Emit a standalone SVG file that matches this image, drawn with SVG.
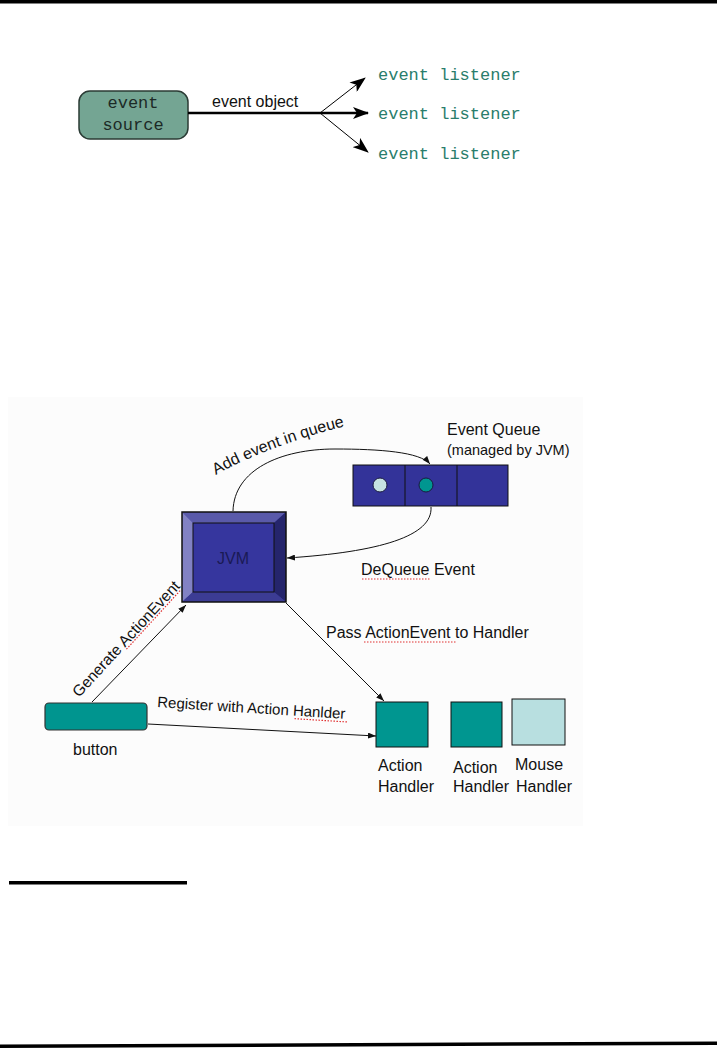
<svg xmlns="http://www.w3.org/2000/svg" width="717" height="1049" viewBox="0 0 717 1049">
<defs>
<style>
.mono{font-family:"Liberation Mono","DejaVu Sans Mono",monospace;font-size:17px}
.lst{fill:#2a7d6c}
.sans{font-family:"Liberation Sans",Arial,sans-serif;fill:#111}
.thin{fill:none;stroke:#111;stroke-width:1}
.squig{fill:none;stroke:#e03030;stroke-width:1.2;stroke-dasharray:1.5 1.5}
</style>
<marker id="big" markerWidth="16" markerHeight="12" refX="15" refY="6" orient="auto" markerUnits="userSpaceOnUse">
<path d="M0,0 L16,6 L0,12 L4,6 Z" fill="#000"/>
</marker>
<marker id="sm" markerWidth="8" markerHeight="6" refX="8" refY="3" orient="auto" markerUnits="userSpaceOnUse">
<path d="M0,0 L8,3 L0,6 Z" fill="#111"/>
</marker>
</defs>
<rect width="717" height="1049" fill="#fff"/>
<rect x="0" y="0" width="717" height="3.5" fill="#000"/>

<!-- top diagram -->
<g id="event-source">
<rect x="79" y="91" width="109" height="48" rx="11" fill="#74a593" stroke="#2b3b35" stroke-width="1.5"/>
<text class="mono" x="133" y="108" text-anchor="middle" fill="#1c2a26">event</text>
<text class="mono" x="133" y="130" text-anchor="middle" fill="#1c2a26">source</text>
</g>
<g id="listeners">
<text class="mono lst" x="378" y="80">event listener</text>
<text class="mono lst" x="378" y="119">event listener</text>
<text class="mono lst" x="378" y="159">event listener</text>
</g>
<g id="top-connectors">
<line x1="188" y1="113" x2="368" y2="113" stroke="#000" stroke-width="2.5" marker-end="url(#big)"/>
<line x1="320" y1="113" x2="365" y2="78" stroke="#000" stroke-width="1" marker-end="url(#big)"/>
<line x1="320" y1="113" x2="368" y2="152" stroke="#000" stroke-width="1" marker-end="url(#big)"/>
<text class="sans" x="212" y="107" font-size="16">event object</text>
</g>

<!-- lower diagram -->
<rect x="8" y="397" width="575" height="429" fill="#fcfcfc"/>

<g id="jvm">
<rect x="182" y="512" width="104" height="90" fill="#36369e"/>
<polygon points="182,512 286,512 274,523 193,523" fill="#5a5aaa"/>
<polygon points="182,512 193,523 193,592 182,602" fill="#8282c4"/>
<polygon points="286,512 286,602 274,592 274,523" fill="#25256c"/>
<polygon points="182,602 193,592 274,592 286,602" fill="#3c3c94"/>
<rect x="193" y="523" width="81" height="69" fill="none" stroke="#111" stroke-width="1"/>
<rect x="182" y="512" width="104" height="90" fill="none" stroke="#111" stroke-width="1.5"/>
<text class="sans" x="233" y="564" font-size="16" text-anchor="middle" style="fill:#1a1a55">JVM</text>
</g>

<g id="event-queue">
<rect x="353" y="465" width="155" height="41" fill="#333399" stroke="#111" stroke-width="1"/>
<line x1="405" y1="465" x2="405" y2="506" stroke="#111"/>
<line x1="457" y1="465" x2="457" y2="506" stroke="#111"/>
<circle cx="380" cy="485" r="7" fill="#c6e2e2" stroke="#1a1a40" stroke-width="1"/>
<circle cx="426" cy="485" r="7" fill="#009690" stroke="#1a1a40" stroke-width="1"/>
<text class="sans" x="447" y="435" font-size="16">Event Queue</text>
<text class="sans" x="447" y="455" font-size="14.5">(managed by JVM)</text>
</g>

<g id="button">
<rect x="45" y="703" width="102" height="27" rx="4" fill="#00958f" stroke="#333" stroke-width="1.2"/>
<text class="sans" x="73" y="755" font-size="16">button</text>
</g>

<g id="action-handler-1">
<rect x="376" y="702" width="52" height="45" fill="#009690" stroke="#111" stroke-width="1"/>
<text class="sans" x="378" y="771" font-size="16">Action</text>
<text class="sans" x="378" y="792" font-size="16">Handler</text>
</g>
<g id="action-handler-2">
<rect x="451" y="702" width="51" height="45" fill="#009690" stroke="#111" stroke-width="1"/>
<text class="sans" x="453" y="773" font-size="16">Action</text>
<text class="sans" x="453" y="792" font-size="16">Handler</text>
</g>
<g id="mouse-handler">
<rect x="512" y="699" width="53" height="46" fill="#b8dfe0" stroke="#111" stroke-width="1"/>
<text class="sans" x="515" y="770" font-size="16">Mouse</text>
<text class="sans" x="516" y="792" font-size="16">Handler</text>
</g>

<g id="connectors">
<path class="thin" d="M233,511 C234,470 280,449 335,449 C380,449 420,452 430,464" marker-end="url(#sm)"/>
<path class="thin" d="M431,507 C433,536 380,552 287,558" marker-end="url(#sm)"/>
<line class="thin" x1="286" y1="603" x2="384" y2="701" marker-end="url(#sm)"/>
<line class="thin" x1="92" y1="702" x2="186" y2="605" marker-end="url(#sm)"/>
<line class="thin" x1="148" y1="724" x2="376" y2="736" marker-end="url(#sm)"/>
<path id="addPath" d="M216,475 C245,458 300,436 362,422" fill="none"/>
<text class="sans" font-size="16"><textPath href="#addPath">Add event in queue</textPath></text>
<text class="sans" x="361" y="575" font-size="16">DeQueue Event</text>
<path class="squig" d="M362,579 L430,579"/>
<text class="sans" x="326" y="638" font-size="16">Pass ActionEvent to Handler</text>
<path class="squig" d="M364,642 L456,642"/>
<text class="sans" font-size="15.5" transform="translate(79,698) rotate(-47.5)">Generate ActionEvent</text>
<path class="squig" d="M0,2 L80,2" transform="translate(79,698) rotate(-47.5) translate(68,0)"/>
<text class="sans" font-size="15" transform="translate(157,707) rotate(3.6)">Register with Action Hanlder</text>
<path class="squig" d="M138,3 L192,3" transform="translate(157,707) rotate(3.6)"/>
</g>

<rect x="9" y="881" width="178" height="3.5" fill="#000"/>
<polygon points="0,1044.5 717,1041.5 717,1045 0,1048" fill="#000"/>
</svg>
